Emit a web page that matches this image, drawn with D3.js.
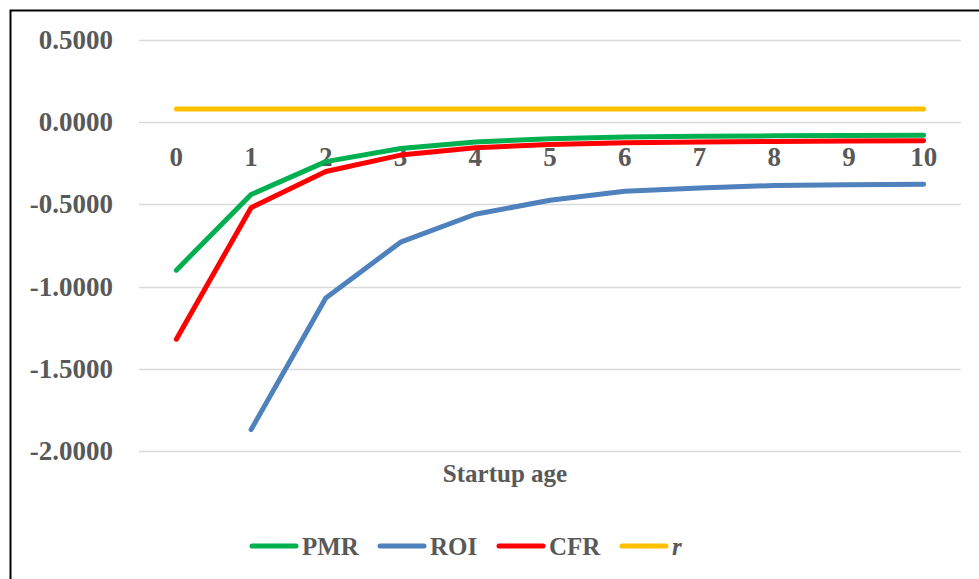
<!DOCTYPE html>
<html>
<head>
<meta charset="utf-8">
<script src="https://cdn.jsdelivr.net/npm/d3@7"></script>
<style>
  body { margin: 0; background: #fff; }
  text { font-family: "Liberation Serif", "DejaVu Serif", serif; font-weight: bold; fill: #595959; }
</style>
</head>
<body>
<div id="chart"></div>
<script>
// startup age categories
var ages = ["0", "1", "2", "3", "4", "5", "6", "7", "8", "9", "10"];
var yTicks = [0.5, 0, -0.5, -1.0, -1.5, -2.0];
// series values
var pmr = [-0.90, -0.44, -0.24, -0.16, -0.12, -0.10, -0.09, -0.085, -0.083, -0.081, -0.08];
var roi = [null, -1.87, -1.07, -0.73, -0.56, -0.475, -0.42, -0.40, -0.385, -0.38, -0.377];
var cfr = [-1.32, -0.52, -0.30, -0.20, -0.155, -0.135, -0.125, -0.12, -0.117, -0.115, -0.113];
var rate = [0.08, 0.08, 0.08, 0.08, 0.08, 0.08, 0.08, 0.08, 0.08, 0.08, 0.08];

var seriesNames = ["PMR", "ROI", "CFR", "r"];
var seriesValues = [pmr, roi, cfr, rate];
var seriesColors = ["#00B050", "#4F81BD", "#FF0000", "#FFC000"];

var width = 979, height = 579;

var svg = d3.select("#chart")
        .append("svg")
        .attr("width", width)
        .attr("height", height);

// outer frame
svg.append("rect")
        .attr("x", 10.5)
        .attr("y", 10.5)
        .attr("width", width + 20)
        .attr("height", height + 20)
        .attr("fill", "none")
        .attr("stroke", "#000")
        .attr("stroke-width", 2);

var x = d3.scaleBand()
        .domain(ages)
        .range([139, 961]);

var y = d3.scaleLinear()
        .domain([-2.0, 0.5])
        .range([451, 40]);

// gridlines
svg.append("g")
        .selectAll("line")
        .data(yTicks)
        .enter()
        .append("line")
        .attr("x1", 139)
        .attr("x2", 961)
        .attr("y1", function (d) { return Math.round(y(d)) + 0.5; })
        .attr("y2", function (d) { return Math.round(y(d)) + 0.5; })
        .attr("stroke", "#D9D9D9")
        .attr("stroke-width", 1.5);

// y tick labels
svg.append("g")
        .selectAll("text")
        .data(yTicks)
        .enter()
        .append("text")
        .attr("x", 113)
        .attr("y", function (d) { return y(d) + 9; })
        .attr("text-anchor", "end")
        .style("font-size", "27px")
        .text(function (d) { return d3.format(".4f")(d).replace("−", "-"); });

// x labels sit just under the zero line
svg.append("g")
        .selectAll("text")
        .data(ages)
        .enter()
        .append("text")
        .attr("x", function (d) { return x(d) + x.bandwidth() / 2; })
        .attr("y", y(0) + 44)
        .attr("text-anchor", "middle")
        .style("font-size", "27px")
        .text(function (d) { return d; });

// lines
var line = d3.line()
        .defined(function (d) { return d != null; })
        .x(function (d, i) { return x(ages[i]) + x.bandwidth() / 2; })
        .y(function (d) { return y(d); });

seriesValues.forEach(function (vals, i) {
    svg.append("path")
            .datum(vals)
            .attr("d", line)
            .attr("fill", "none")
            .attr("stroke", seriesColors[i])
            .attr("stroke-width", 5)
            .attr("stroke-linecap", "round")
            .attr("stroke-linejoin", "round");
});

// axis title
svg.append("text")
        .attr("x", 505)
        .attr("y", 482)
        .attr("text-anchor", "middle")
        .style("font-size", "25px")
        .text("Startup age");

// legend
var legendX = [250, 378, 497, 620];
seriesNames.forEach(function (name, i) {
    var g = svg.append("g")
            .attr("transform", "translate(" + legendX[i] + ",546)");
    g.append("line")
            .attr("x1", 2)
            .attr("x2", 46)
            .attr("stroke", seriesColors[i])
            .attr("stroke-width", 5)
            .attr("stroke-linecap", "round");
    g.append("text")
            .attr("x", 52)
            .attr("y", 9)
            .style("font-size", "25px")
            .style("font-style", name == "r" ? "italic" : "normal")
            .text(name);
});
</script>
</body>
</html>
